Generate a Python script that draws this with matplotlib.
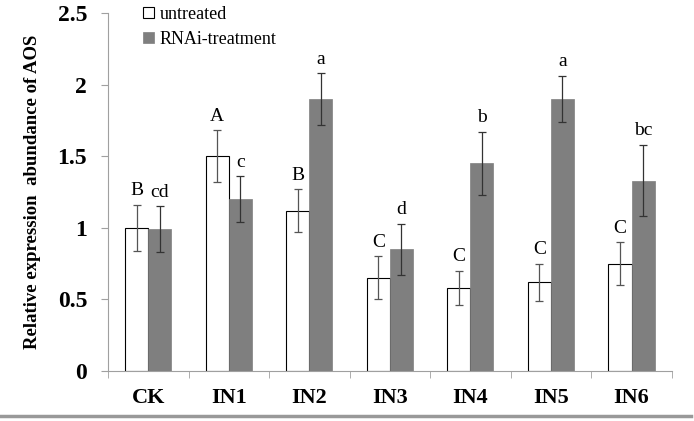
import numpy as np
import matplotlib
matplotlib.use("Agg")
import matplotlib.pyplot as plt
from matplotlib.lines import Line2D

plt.rcParams["font.family"] = ["Liberation Serif", "DejaVu Serif"]

groupes = ["CK", "IN1", "IN2", "IN3", "IN4", "IN5", "IN6"]
untreated = [1.00, 1.50, 1.12, 0.65, 0.58, 0.62, 0.75]
untreated_err = [0.16, 0.18, 0.15, 0.15, 0.12, 0.13, 0.15]
rnai = [0.99, 1.20, 1.90, 0.85, 1.45, 1.90, 1.33]
rnai_err = [0.16, 0.16, 0.18, 0.18, 0.22, 0.16, 0.25]
lettres_untreated = ["B", "A", "B", "C", "C", "C", "C"]
lettres_rnai = ["cd", "c", "a", "d", "b", "a", "bc"]

fig = plt.figure(figsize=(6.94, 4.21), dpi=100)
ax = fig.add_axes([0.1556, 0.1188, 0.8124, 0.8502])

x = np.arange(len(groupes))
w = 0.286
ax.bar(x - w / 2, untreated, w, color="white", edgecolor="black", linewidth=0.8,
       label="untreated", zorder=2)
ax.bar(x + w / 2, rnai, w, color="#7f7f7f", edgecolor="#7f7f7f", linewidth=0.5,
       label="RNAi-treatment", zorder=2)
ax.errorbar(x - w / 2, untreated, yerr=untreated_err, fmt="none", ecolor="#555555",
            elinewidth=0.9, capsize=3, capthick=0.9, zorder=3)
ax.errorbar(x + w / 2, rnai, yerr=rnai_err, fmt="none", ecolor="#333333",
            elinewidth=0.9, capsize=3, capthick=0.9, zorder=3)

for i in range(len(groupes)):
    ax.annotate(lettres_untreated[i], (x[i] - w / 2, untreated[i] + untreated_err[i]),
                xytext=(0, 4), textcoords="offset points", ha="center", va="bottom",
                fontsize=14)
    ax.annotate(lettres_rnai[i], (x[i] + w / 2, rnai[i] + rnai_err[i]),
                xytext=(0, 4), textcoords="offset points", ha="center", va="bottom",
                fontsize=14)

ax.set_xlim(-0.5, len(groupes) - 0.5)
ax.set_ylim(0, 2.5)
ax.set_yticks([0, 0.5, 1, 1.5, 2, 2.5])
ax.set_yticklabels(["0", "0.5", "1", "1.5", "2", "2.5"], fontsize=17, fontweight="bold")
ax.set_xticks(x)
ax.set_xticklabels(groupes, fontsize=16, fontweight="bold")
ax.set_xticks(np.arange(-0.5, len(groupes)), minor=True)
ax.tick_params(axis="x", which="major", length=0, pad=12)
ax.tick_params(axis="x", which="minor", length=5, color="#a0a0a0")
ax.tick_params(axis="y", length=5, color="#a0a0a0", pad=10)
ax.set_ylabel("Relative expression  abundance of AOS", fontsize=13.5,
              fontweight="bold", labelpad=12)

for s in ["top", "right"]:
    ax.spines[s].set_visible(False)
for s in ["left", "bottom"]:
    ax.spines[s].set_color("#a0a0a0")

ax.legend(loc="upper left", bbox_to_anchor=(0.05, 1.04), frameon=False,
          fontsize=13, handlelength=0.6, handleheight=0.6, handletextpad=0.3,
          labelspacing=0.45, borderaxespad=0)

fig.add_artist(Line2D([0.0, 0.995], [0.012, 0.012], color="#999999", linewidth=2.5,
                      transform=fig.transFigure))

fig.savefig("out.png", dpi=100)
